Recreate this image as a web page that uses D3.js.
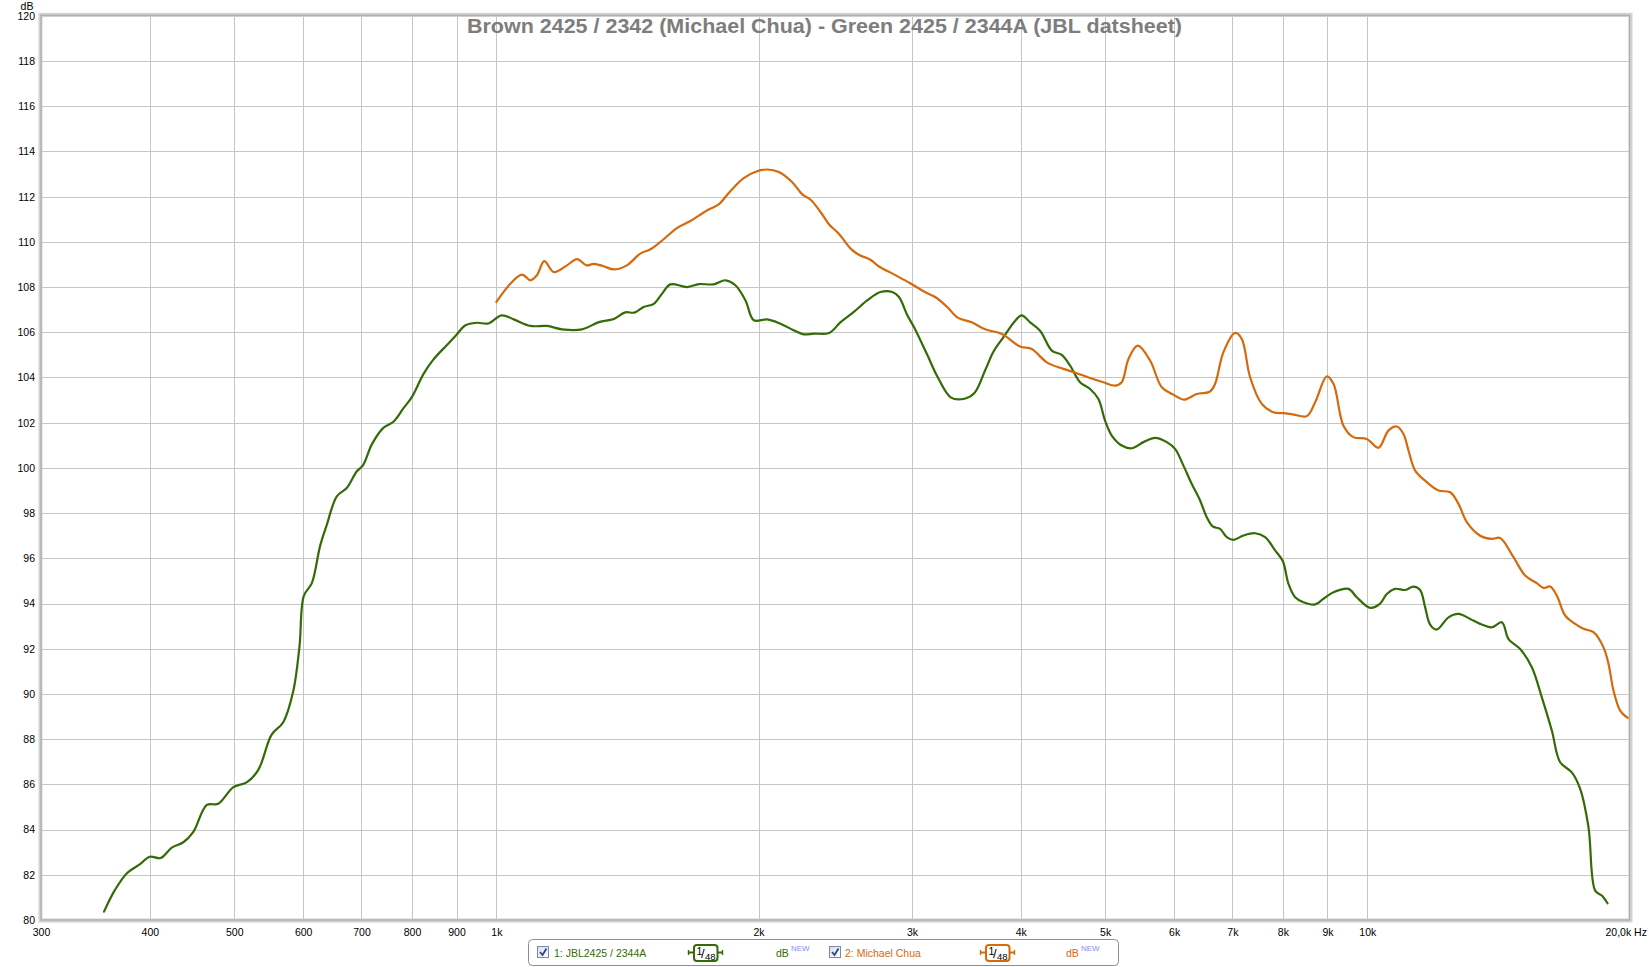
<!DOCTYPE html>
<html><head><meta charset="utf-8">
<script src="https://cdn.jsdelivr.net/npm/d3@7"></script>
<style>
html,body{margin:0;padding:0;background:#fff;}
svg{display:block;}
</style></head>
<body>
<svg id="chart" width="1649" height="967"></svg>
<script>
// ---------------- data ----------------
const titleText = "Brown 2425 / 2342 (Michael Chua) - Green 2425 / 2344A (JBL datsheet)";
const yUnit = "dB";
const yTicks = [80,82,84,86,88,90,92,94,96,98,100,102,104,106,108,110,112,114,116,118,120];
const xTicks = [300,400,500,600,700,800,900,1000,2000,3000,4000,5000,6000,7000,8000,9000,10000,20000];
const xTickLabels = ["300","400","500","600","700","800","900","1k","2k","3k","4k","5k","6k","7k","8k","9k","10k","20,0k Hz"];
const xGrid = [400,500,600,700,800,900,1000,2000,3000,4000,5000,6000,7000,8000,9000,10000];

const jblFreq = [354.4,364.8,376.3,389.8,400,411.7,423.9,437.1,448.8,465.1,479.4,498.6,517.2,532.9,552,569.2,584.5,594.3,601,613.9,627.4,638.4,655.8,673.3,691.1,703,719.2,741.7,761.5,781.9,800,824.5,846.4,877,900,920.5,949.3,979,1014,1047,1094,1143,1190,1254,1311,1364,1406,1440,1476,1516,1550,1584,1656,1708,1776,1832,1881,1932,1975,2046,2119,2194,2253,2314,2410,2485,2573,2665,2761,2848,2899,2964,3016,3126,3211,3327,3447,3539,3641,3720,3821,3940,4010,4100,4210,4342,4458,4557,4679,4805,4912,4999,5088,5224,5364,5533,5706,5885,6015,6150,6287,6427,6541,6645,6776,6896,7019,7207,7433,7632,7837,7997,8118,8262,8446,8711,8905,9144,9513,9725,10074,10344,10530,10764,11052,11298,11498,11652,11806,12017,12394,12726,13124,13476,13898,14271,14525,14979,15449,15862,16287,16650,17172,17554,17946,18264,18588,18870];
const jblDb = [80.37,81.33,82.06,82.47,82.8,82.74,83.2,83.44,83.9,85.09,85.14,85.87,86.1,86.64,88.2,88.75,90.13,92.14,94.34,94.9,96.54,97.46,98.74,99.11,99.84,100.12,101.03,101.77,102.04,102.63,103.14,104.15,104.79,105.43,105.89,106.3,106.42,106.39,106.75,106.57,106.28,106.28,106.13,106.13,106.45,106.59,106.88,106.87,107.12,107.26,107.71,108.12,108.0,108.13,108.12,108.3,108.08,107.41,106.53,106.57,106.38,106.09,105.91,105.94,105.97,106.45,106.9,107.41,107.78,107.78,107.56,106.75,106.23,104.98,104.02,103.11,103.06,103.31,104.32,105.13,105.78,106.5,106.75,106.44,106.07,105.19,105.0,104.53,103.79,103.49,103.05,102.09,101.43,100.99,100.87,101.14,101.33,101.14,100.84,100.1,99.29,98.56,97.82,97.41,97.3,96.94,96.82,97.01,97.11,96.94,96.35,95.88,94.87,94.28,94.06,93.96,94.21,94.5,94.65,94.28,93.81,94.0,94.42,94.65,94.6,94.75,94.6,93.83,93.07,92.85,93.39,93.54,93.32,93.1,92.95,93.17,92.43,91.99,91.18,89.85,88.38,86.98,86.53,85.8,84.1,81.3,81.08,80.74];

const chuaFreq = [1000,1037.7,1070,1094,1113,1135,1164,1205,1238,1269,1294,1328,1364,1412,1463,1503,1550,1613,1670,1745,1800,1857,1923,1992,2046,2110,2186,2245,2295,2356,2410,2473,2551,2607,2688,2747,2860,2983,3105,3190,3293,3385,3508,3641,3802,3993,4118,4285,4478,4638,4805,4977,5133,5224,5318,5450,5631,5807,5989,6161,6370,6599,6687,6836,7050,7175,7335,7565,7802,8011,8226,8521,8711,8984,9144,9388,9640,9986,10299,10574,10810,11002,11150,11348,11703,12071,12449,12726,13009,13476,13898,14207,14717,15178,15654,15932,16215,16504,16872,17325,17710,18184,18671,18920,19171,19512,19859,20000];
const chuaDb = [107.34,108.15,108.55,108.3,108.52,109.15,108.66,108.96,109.24,108.96,109.03,108.92,108.78,108.96,109.48,109.67,110.06,110.62,110.92,111.39,111.66,112.25,112.82,113.12,113.2,113.09,112.64,112.1,111.86,111.32,110.77,110.36,109.7,109.43,109.21,108.92,108.56,108.18,107.78,107.56,107.12,106.65,106.45,106.13,105.93,105.37,105.26,104.67,104.38,104.19,103.98,103.79,103.64,103.79,104.82,105.41,104.75,103.57,103.24,103.02,103.27,103.38,103.72,105.12,105.97,105.71,104.01,102.83,102.46,102.42,102.36,102.29,102.9,104.05,103.72,101.87,101.36,101.28,100.89,101.65,101.83,101.5,100.77,99.88,99.37,99.0,98.92,98.41,97.6,97.0,96.86,96.9,96.05,95.24,94.9,94.69,94.75,94.35,93.47,93.1,92.88,92.73,92.06,91.33,90.15,89.26,88.97,88.92];

const legendNames = ["1: JBL2425 / 2344A", "2: Michael Chua"];
const smoothingLabel = ["1", "48"];

// ---------------- styles / layout ----------------
const GREEN = "#356b06", ORANGE = "#d56a0c";
const PL = 41, PR = 1629.5, PT = 15.8, PB = 920;
const FONT = "'Liberation Sans', Arial, sans-serif";

const svg = d3.select("#chart");
const x = d3.scaleLog().domain([300, 20000]).range([PL, PR]);
const y = d3.scaleLinear().domain([80, 120]).range([PB, PT]);

// grid
const grid = svg.append("g").attr("stroke", "#c6c6c6").attr("stroke-width", 1).attr("shape-rendering", "crispEdges");
grid.selectAll("line.h").data(yTicks).join("line")
  .attr("x1", PL).attr("x2", PR).attr("y1", d => Math.round(y(d)) + 0.5).attr("y2", d => Math.round(y(d)) + 0.5);
grid.selectAll("line.v").data(xGrid).join("line")
  .attr("y1", PT).attr("y2", PB).attr("x1", d => Math.round(x(d)) + 0.5).attr("x2", d => Math.round(x(d)) + 0.5);

// title
svg.append("text")
  .attr("x", 824.5).attr("y", 33)
  .attr("text-anchor", "middle")
  .attr("font-family", "'Liberation Sans Narrow', 'Liberation Sans', Arial, sans-serif")
  .attr("font-weight", "bold").attr("font-size", 21)
  .attr("fill", "#7d7d7d")
  .attr("textLength", 715).attr("lengthAdjust", "spacingAndGlyphs")
  .text(titleText);

// curves
svg.append("clipPath").attr("id", "clip").append("rect")
  .attr("x", PL).attr("y", PT).attr("width", PR - PL).attr("height", PB - PT);
const line = d3.line().x(d => x(d[0])).y(d => y(d[1])).curve(d3.curveCatmullRom.alpha(0.5));
const jbl = jblFreq.map((f, i) => [f, jblDb[i]]);
const chua = chuaFreq.map((f, i) => [f, chuaDb[i]]);
const curves = svg.append("g").attr("clip-path", "url(#clip)").attr("fill", "none")
  .attr("stroke-width", 2.2).attr("stroke-linejoin", "round").attr("stroke-linecap", "round");
curves.append("path").attr("d", line(jbl)).attr("stroke", GREEN);
curves.append("path").attr("d", line(chua)).attr("stroke", ORANGE);

// frame
svg.append("rect").attr("x", PL - 0.5).attr("y", PT - 1).attr("width", PR - PL + 1.5).attr("height", PB - PT + 1.5)
  .attr("fill", "none").attr("stroke", "#d2d2d2").attr("stroke-width", 4);
svg.append("rect").attr("x", PL).attr("y", PT - 0.5).attr("width", PR - PL).attr("height", PB - PT + 0.5)
  .attr("fill", "none").attr("stroke", "#ababab").attr("stroke-width", 1.2);

// axes
const yAxis = d3.axisLeft(y).tickValues(yTicks).tickSize(0).tickPadding(6).tickFormat(d3.format("d"));
const gy = svg.append("g").attr("transform", `translate(${PL},0)`).call(yAxis);
gy.select(".domain").remove();
gy.selectAll("text").attr("font-family", FONT).attr("font-size", 10.5).attr("fill", "#000");

const xAxis = d3.axisBottom(x).tickValues(xTicks).tickSize(0).tickPadding(9)
  .tickFormat((d, i) => xTickLabels[i]);
const gx = svg.append("g").attr("transform", `translate(0,${PB})`).call(xAxis);
gx.select(".domain").remove();
gx.selectAll("text").attr("font-family", FONT).attr("font-size", 10.5).attr("fill", "#000");
gx.selectAll(".tick").filter(d => d === 20000).select("text")
  .attr("text-anchor", "start").attr("dx", -24.5);

svg.append("text").attr("x", 27).attr("y", 10).attr("text-anchor", "middle")
  .attr("font-family", FONT).attr("font-size", 10.5).text(yUnit);

// legend
const lg = svg.append("g");
lg.append("rect").attr("x", 528.5).attr("y", 939.5).attr("width", 590).attr("height", 26).attr("rx", 4)
  .attr("fill", "#fff").attr("stroke", "#8e8e8e").attr("stroke-width", 1);
const defs = svg.append("defs");
const grad = defs.append("linearGradient").attr("id", "cbg").attr("x1", 0).attr("y1", 0).attr("x2", 1).attr("y2", 1);
grad.append("stop").attr("offset", "0%").attr("stop-color", "#dcdcdc");
grad.append("stop").attr("offset", "100%").attr("stop-color", "#ffffff");

const items = [
  {name: legendNames[0], color: GREEN, cb: 537, text: 554, icon: 688, db: 776},
  {name: legendNames[1], color: ORANGE, cb: 829, text: 845, icon: 980, db: 1066}
];
items.forEach(it => {
  const g = lg.append("g");
  g.append("rect").attr("x", it.cb + 0.5).attr("y", 946.5).attr("width", 11).attr("height", 11)
    .attr("fill", "url(#cbg)").attr("stroke", "#7a8aa6");
  g.append("path").attr("d", `M${it.cb + 3},${952} L${it.cb + 5.5},${955} L${it.cb + 9.5},${948.5}`)
    .attr("fill", "none").attr("stroke", "#23469e").attr("stroke-width", 1.8);
  g.append("text").attr("x", it.text).attr("y", 957).attr("font-family", FONT).attr("font-size", 10.5)
    .attr("fill", it.color).text(it.name);
  // smoothing icon
  const ix = it.icon;
  g.append("line").attr("x1", ix).attr("x2", ix + 35).attr("y1", 952.5).attr("y2", 952.5)
    .attr("stroke", it.color).attr("stroke-width", 2);
  g.append("line").attr("x1", ix + 0.5).attr("x2", ix + 0.5).attr("y1", 950).attr("y2", 955).attr("stroke", it.color).attr("stroke-width", 1.4);
  g.append("line").attr("x1", ix + 34.5).attr("x2", ix + 34.5).attr("y1", 950).attr("y2", 955).attr("stroke", it.color).attr("stroke-width", 1.4);
  g.append("rect").attr("x", ix + 6).attr("y", 945).attr("width", 23.5).attr("height", 16).attr("rx", 3)
    .attr("fill", "#fff").attr("stroke", it.color).attr("stroke-width", 2);
  g.append("text").attr("x", ix + 8.5).attr("y", 955).attr("font-family", FONT).attr("font-size", 10.5).attr("fill", "#000").text(smoothingLabel[0]);
  g.append("text").attr("x", ix + 13).attr("y", 958).attr("font-family", FONT).attr("font-size", 13).attr("fill", "#000").text("/");
  g.append("text").attr("x", ix + 17).attr("y", 959.5).attr("font-family", FONT).attr("font-size", 9.5).attr("fill", "#000").text(smoothingLabel[1]);
  // dB NEW
  g.append("text").attr("x", it.db).attr("y", 957).attr("font-family", FONT).attr("font-size", 10.5)
    .attr("fill", it.color).text("dB");
  g.append("text").attr("x", it.db + 15).attr("y", 951).attr("font-family", FONT).attr("font-size", 8)
    .attr("fill", "#8a8af0").text("NEW");
});
</script>
</body></html>
